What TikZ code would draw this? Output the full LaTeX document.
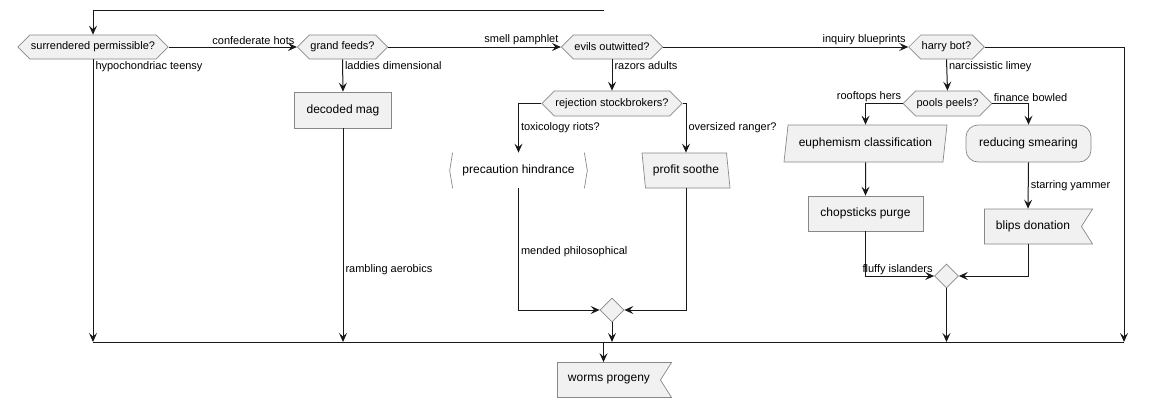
\documentclass[tikz,border=0pt]{standalone}
\usepackage{fontspec}
\setmainfont{Liberation Sans}
\usetikzlibrary{shapes.geometric, shapes.symbols, arrows.meta}
\definecolor{boxfill}{HTML}{F1F1F1}
\definecolor{boxline}{HTML}{888888}
\definecolor{flowline}{HTML}{181818}

\begin{document}
\begin{tikzpicture}[
        x=1pt, y=-1pt,
        >={Stealth[length=9pt, width=8pt, inset=3.5pt]},
        line/.style={draw=flowline, line width=1pt},
        question/.style={signal, signal to=east and west, signal pointer angle=90, draw=boxline, fill=boxfill, line width=0.7pt, minimum height=24pt, inner sep=1pt, font=\fontsize{11}{13}\selectfont},
        action/.style={rectangle, draw=boxline, fill=boxfill, line width=0.7pt, minimum height=35pt, inner sep=2pt, font=\fontsize{12}{14}\selectfont},
        io/.style={action, trapezium, trapezium stretches body},
        flag/.style={action, signal, signal to=nowhere, signal from=east, signal pointer angle=115},
        merge/.style={diamond, draw=boxline, fill=boxfill, line width=0.7pt, minimum size=24pt, inner sep=0pt},
        edge_label/.style={font=\fontsize{11}{13}\selectfont, inner sep=2pt}
    ]
        \useasboundingbox (0,0) rectangle (1149,408);

        % Decisions along the top row
        \node[question, minimum width=146pt] (surrendered) at (93,47) {surrendered permissible?};
        \node[question, minimum width=89pt] (grand) at (342.5,47) {grand feeds?};
        \node[question, minimum width=100pt] (evils) at (612,47) {evils outwitted?};
        \node[question, minimum width=73pt] (harry) at (946.5,47) {harry bot?};

        % Middle branch
        \node[action, minimum width=97pt, minimum height=36pt] (decoded) at (343,110) {decoded mag};
        \node[question, minimum width=138pt, minimum height=25pt] (rejection) at (612,103.5) {rejection stockbrokers?};
        \node[action, draw=none, fill=none, minimum width=137pt] (precaution) at (518.5,170.5) {precaution hindrance};
        \node[io, trapezium left angle=103, trapezium right angle=77, minimum width=88pt] (profit) at (686,170.5) {profit soothe};
        \node[merge] (merge_left) at (612,310) {};
        \node[flag, minimum width=114pt] (worms) at (609,380) {worms progeny};

        % Right branch
        \node[question, minimum width=85pt, minimum height=25pt] (pools) at (947.5,103.5) {pools peels?};
        \node[io, trapezium left angle=75, trapezium right angle=105, minimum width=163pt, minimum height=37pt] (euphemism) at (865.5,143.5) {euphemism classification};
        \node[action, rounded corners=12pt, minimum width=125pt, minimum height=37pt] (reducing) at (1028.5,143.5) {reducing smearing};
        \node[action, minimum width=115pt] (chopsticks) at (865.5,213.5) {chopsticks purge};
        \node[flag, minimum width=108pt] (blips) at (1033,226.5) {blips donation};
        \node[merge] (merge_right) at (946.5,276) {};

        \coordinate (loop_start) at (604,10);
        \coordinate (bar_left) at (93,342);
        \coordinate (bar_right) at (1124,342);
        \coordinate (worms_in) at ([xshift=-5.5pt]worms.north);
        \coordinate (blips_in) at ([xshift=-5pt]blips.north);

        % Brackets round the bare action
        \draw[boxline, line width=0.7pt] ([xshift=3pt]precaution.north west) -- (precaution.west) -- ([xshift=3pt]precaution.south west);
        \draw[boxline, line width=0.7pt] ([xshift=-3pt]precaution.north east) -- (precaution.east) -- ([xshift=-3pt]precaution.south east);

        % Top row connectors
        \draw[line, ->] (loop_start) -| (surrendered.north);
        \draw[line, ->] (surrendered.east) -- (grand.west) node[edge_label, pos=1, above left] {confederate hots};
        \draw[line, ->] (grand.east) -- (evils.west) node[edge_label, pos=1, above left] {smell pamphlet};
        \draw[line, ->] (evils.east) -- (harry.west) node[edge_label, pos=1, above left] {inquiry blueprints};
        \draw[line, ->] (surrendered.south) -- (surrendered.south |- bar_left) node[edge_label, pos=0, below right] {hypochondriac teensy};
        \draw[line, ->] (harry.east) -| (bar_right);

        % Middle connectors
        \draw[line, ->] (grand.south) -- (decoded.north) node[edge_label, pos=0, below right] {laddies dimensional};
        \draw[line, ->] (decoded.south) -- (decoded.south |- bar_left) node[edge_label, pos=0.66, right] {rambling aerobics};
        \draw[line, ->] (evils.south) -- (rejection.north) node[edge_label, pos=0, below right] {razors adults};
        \draw[line, ->] (rejection.west) -| (precaution.north) node[edge_label, pos=0.75, right] {toxicology riots?};
        \draw[line, ->] (rejection.east) -| (profit.north) node[edge_label, pos=0.75, right] {oversized ranger?};
        \draw[line, ->] (precaution.south) |- (merge_left.west) node[edge_label, pos=0.26, right] {mended philosophical};
        \draw[line, ->] (profit.south) |- (merge_left.east);
        \draw[line, ->] (merge_left.south) -- (merge_left.south |- bar_left);

        % Right connectors
        \draw[line, ->] (harry.south) -- (pools.north) node[edge_label, pos=0, below right] {narcissistic limey};
        \draw[line, ->] (pools.west) -| (euphemism.north) node[edge_label, pos=0, above left, inner sep=1pt] {rooftops hers};
        \draw[line, ->] (pools.east) -| (reducing.north) node[edge_label, pos=0, above right, inner sep=1pt] {finance bowled};
        \draw[line, ->] (euphemism.south) -- (chopsticks.north);
        \draw[line, ->] (reducing.south) -- (blips_in) node[edge_label, midway, right] {starring yammer};
        \draw[line, ->] (chopsticks.south) |- (merge_right.west) node[edge_label, pos=1, above left, inner sep=1pt] {fluffy islanders};
        \draw[line, ->] (blips_in |- blips.south) |- (merge_right.east);
        \draw[line, ->] (merge_right.south) -- (merge_right.south |- bar_left);

        % Join bar and the end
        \draw[line] (bar_left) -- (bar_right);
        \draw[line, ->] (worms_in |- bar_left) -- (worms_in);

    \end{tikzpicture}
\end{document}
